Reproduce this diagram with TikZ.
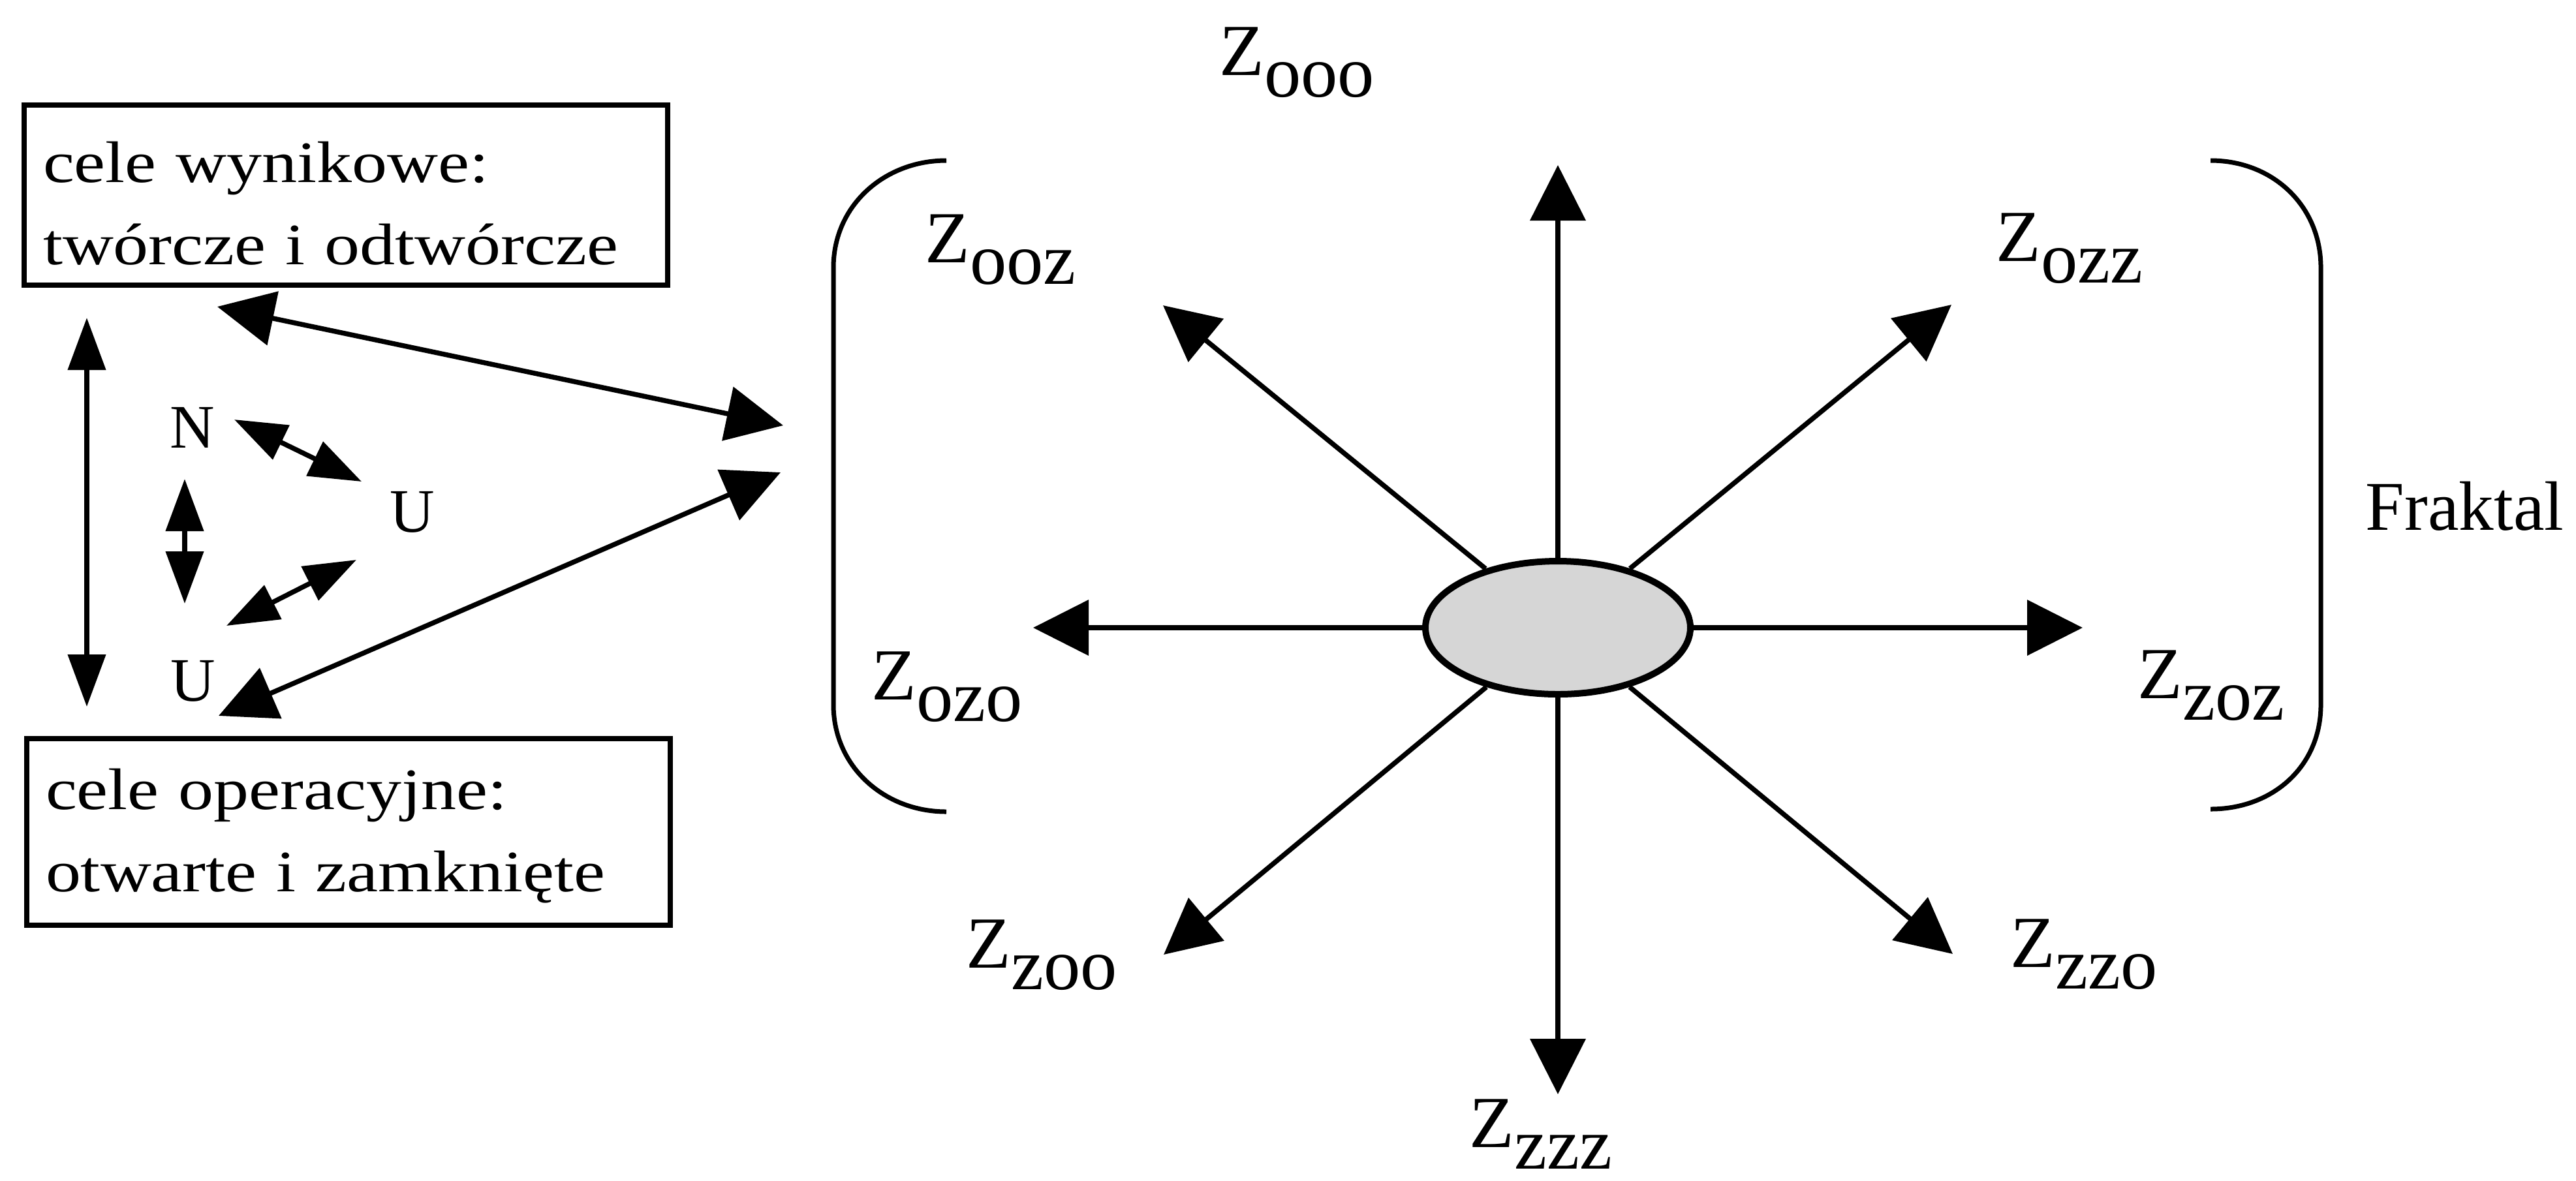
\documentclass[tikz,border=0pt]{standalone}
\usepackage{fontspec}
\setmainfont{Liberation Serif}
\newfontfamily\celfont[FakeStretch=1.2]{Liberation Serif}
\usepackage{tikz}
\usetikzlibrary{arrows.meta,shapes.geometric,positioning}
\newcommand{\Zs}[1]{Z\raisebox{-3.3mm}{#1}}
\tikzset{
  ramka/.style={draw,line width=0.8mm,anchor=north west,inner xsep=2.9mm,inner ysep=3.1mm,
    text width=92.8mm,align=left,font=\celfont\fontsize{25.6pt}{36pt}\selectfont},
  litera/.style={anchor=base,inner sep=0pt,font=\fontsize{27pt}{30pt}\selectfont},
  etykieta/.style={anchor=base west,inner sep=0pt,font=\fontsize{32pt}{36pt}\selectfont},
  strz/.style={-{Triangle[length=8.5mm,width=8.4mm]},line width=0.75mm},
  dwu/.style={{Triangle[length=8.7mm,width=8.3mm]}-{Triangle[length=8.7mm,width=8.3mm]},line width=0.75mm},
  maly/.style={{Triangle[length=8mm,width=5.7mm]}-{Triangle[length=8mm,width=5.7mm]},line width=0.75mm},
  nawias/.style={line width=0.7mm},
  jadro/.style={ellipse,draw,line width=1mm,fill=black!16,minimum width=40.6mm,minimum height=20.4mm}
}
\begin{document}
\begin{tikzpicture}[y=-1cm]
\useasboundingbox (0,0) rectangle (39.47,18.09);
% lewa strona: cele
\node[ramka] (wyn) at (0.33,1.57) {\rule{0pt}{8.7mm}cele wynikowe:\\twórcze i odtwórcze};
\node[ramka] (oper) at (0.37,11.28) {\rule{0pt}{7.7mm}cele operacyjne:\\otwarte i zamknięte\rule[-2mm]{0pt}{2mm}};
\node[litera] (n) at (2.95,6.86) {N};
\node[litera] (u1) at (6.32,8.15) {U};
\node[litera] (u2) at (2.96,10.74) {U};
\coordinate (a1) at (1.33,4.87); \coordinate (a2) at (1.33,10.83);
\coordinate (b1) at (3.33,4.70); \coordinate (b2) at (12.00,6.52);
\coordinate (c1) at (3.35,10.97); \coordinate (c2) at (11.96,7.24);
\coordinate (d1) at (3.59,6.43); \coordinate (d2) at (5.54,7.38);
\coordinate (e1) at (2.83,7.34); \coordinate (e2) at (2.83,9.25);
\coordinate (f1) at (3.47,9.59); \coordinate (f2) at (5.46,8.58);
\draw[maly] (a1) -- (a2);
\draw[dwu] (b1) -- (b2);
\draw[dwu] (c1) -- (c2);
\draw[maly] (d1) -- (d2);
\draw[maly] (e1) -- (e2);
\draw[maly] (f1) -- (f2);
% nawiasy
\draw[nawias] (14.50,2.46) .. controls (13.55,2.46) and (12.77,3.15) .. (12.77,4.10) -- (12.77,10.80) .. controls (12.77,11.75) and (13.55,12.44) .. (14.50,12.44);
\draw[nawias] (33.87,2.46) .. controls (34.82,2.46) and (35.56,3.15) .. (35.56,4.10) -- (35.56,10.80) .. controls (35.56,11.75) and (34.82,12.40) .. (33.87,12.40);
\node[etykieta,font=\fontsize{30.5pt}{34pt}\selectfont] (fraktal) at (36.24,8.12) {Fraktal};
% gwiazda
\node[jadro] (jadro) at (23.87,9.62) {};
\coordinate (tooo) at (23.87,2.53); \coordinate (tzzz) at (23.87,16.77);
\coordinate (tozo) at (15.83,9.62); \coordinate (tzoz) at (31.91,9.62);
\coordinate (tooz) at (17.82,4.68); \coordinate (tozz) at (29.90,4.67);
\coordinate (tzoo) at (17.83,14.63); \coordinate (tzzo) at (29.92,14.62);
\foreach \k in {ooo,ooz,ozz,ozo,zoz,zoo,zzo,zzz} \draw[strz] (jadro) -- (t\k);
\node[etykieta] (zooo) at (18.68,1.15) {\Zs{ooo}};
\node[etykieta] (zooz) at (14.17,4.02) {\Zs{ooz}};
\node[etykieta] (zozz) at (30.58,4.00) {\Zs{ozz}};
\node[etykieta] (zozo) at (13.35,10.72) {\Zs{ozo}};
\node[etykieta] (zzoz) at (32.75,10.70) {\Zs{zoz}};
\node[etykieta] (zzoo) at (14.80,14.83) {\Zs{zoo}};
\node[etykieta] (zzzo) at (30.80,14.82) {\Zs{zzo}};
\node[etykieta] (zzzz) at (22.51,17.58) {\Zs{zzz}};
\end{tikzpicture}
\end{document}
